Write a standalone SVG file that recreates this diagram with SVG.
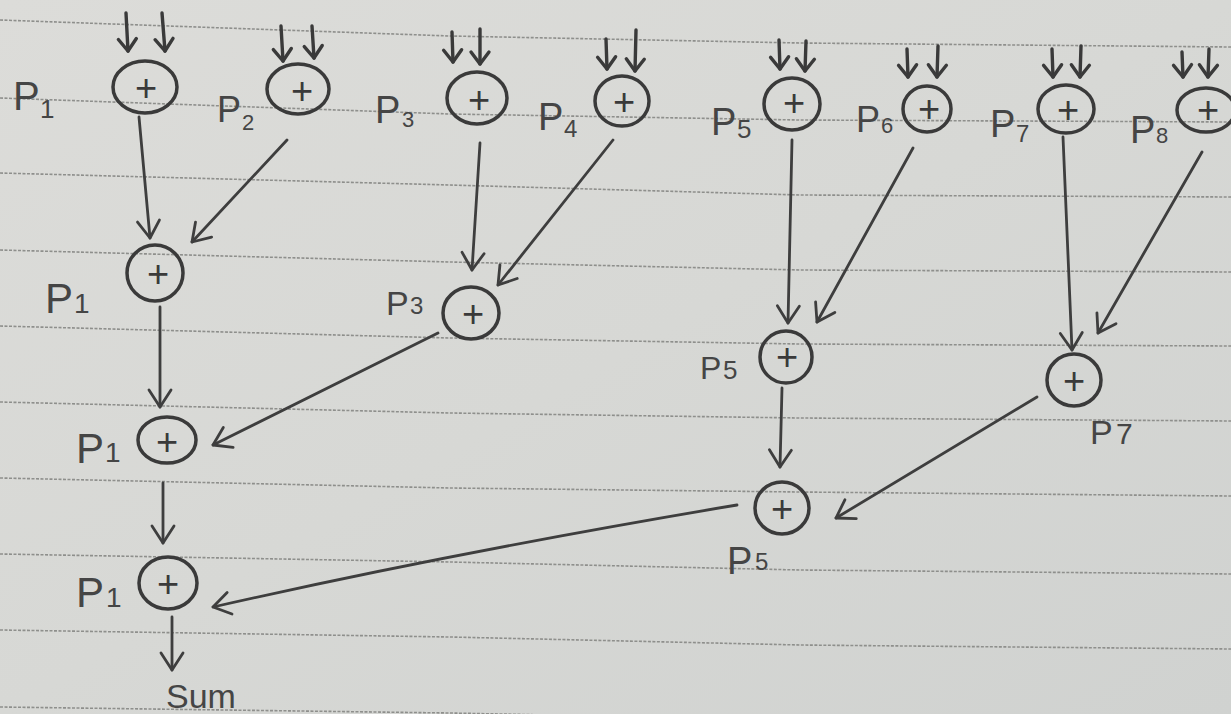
<svg xmlns="http://www.w3.org/2000/svg" width="1231" height="714" viewBox="0 0 1231 714">
<style>
.ring{fill:none;stroke:#3a3a3a;stroke-width:3.5}
.plus{font-family:"Liberation Sans",Arial,sans-serif;font-size:38px;fill:#3a3a3a;text-anchor:middle}
.lbl{font-family:"Liberation Sans",Arial,sans-serif;fill:#454545}
.rule{fill:none;stroke:#8e8f8c;stroke-width:1.6;stroke-dasharray:3 1.5}
.edge{fill:none;stroke:#3e3e3e;stroke-width:2.8;stroke-linecap:round;marker-end:url(#ah)}
.inp{fill:none;stroke:#3a3a3a;stroke-width:3.4;stroke-linecap:round;marker-end:url(#ahs)}
</style>
<defs>
<linearGradient id="paper" x1="0" y1="0" x2="1" y2="1">
<stop offset="0" stop-color="#dcdcd9"/>
<stop offset="0.5" stop-color="#d7d8d5"/>
<stop offset="1" stop-color="#d0d2d0"/>
</linearGradient>
<marker id="ah" viewBox="-20 -14 24 28" refX="0" refY="0" markerWidth="24" markerHeight="28" markerUnits="userSpaceOnUse" orient="auto" overflow="visible">
<path d="M-17,-11 L0,0 L-17,11" fill="none" stroke="#3e3e3e" stroke-width="2.8" stroke-linecap="round" stroke-linejoin="round"/>
</marker>
<marker id="ahs" viewBox="-16 -12 20 24" refX="0" refY="0" markerWidth="20" markerHeight="24" markerUnits="userSpaceOnUse" orient="auto" overflow="visible">
<path d="M-12,-9 L0,0 L-12,9" fill="none" stroke="#3a3a3a" stroke-width="3.4" stroke-linecap="round" stroke-linejoin="round"/>
</marker>
</defs>
<rect width="1231" height="714" fill="url(#paper)"/>
<g id="ruling">
<path class="rule" d="M0,20 L450,36 L800,43 L1231,47"/>
<path class="rule" d="M0,98 L450,114 L800,120 L1231,122"/>
<path class="rule" d="M0,173 L450,185 L800,195 L1231,197"/>
<path class="rule" d="M0,250 L450,262 L800,270 L1231,272"/>
<path class="rule" d="M0,326 L450,338 L800,344 L1231,346"/>
<path class="rule" d="M0,402 L450,413 L800,418 L1231,421"/>
<path class="rule" d="M0,478 L450,488 L800,492 L1231,496"/>
<path class="rule" d="M0,554 L450,562 L800,570 L1231,574"/>
<path class="rule" d="M0,630 L450,637 L800,645 L1231,649"/>
<path class="rule" d="M0,707 L450,713 L800,720 L1231,724"/>
</g>
<g id="connectors">
<path class="inp" d="M126,13 L128,51"/>
<path class="inp" d="M162,13 L165,51"/>
<path class="inp" d="M281,26 L283,61"/>
<path class="inp" d="M312,26 L314,58"/>
<path class="inp" d="M452,32 L453,62"/>
<path class="inp" d="M480,29 L480,64"/>
<path class="inp" d="M606,39 L607,69"/>
<path class="inp" d="M636,30 L635,71"/>
<path class="inp" d="M779,40 L780,69"/>
<path class="inp" d="M806,41 L805,71"/>
<path class="inp" d="M907,49 L908,77"/>
<path class="inp" d="M938,46 L937,77"/>
<path class="inp" d="M1052,49 L1053,77"/>
<path class="inp" d="M1081,46 L1080,77"/>
<path class="inp" d="M1182,52 L1183,77"/>
<path class="inp" d="M1209,49 L1208,77"/>
<path class="edge" d="M139,117 L150,238"/>
<path class="edge" d="M287,140 L192,242"/>
<path class="edge" d="M480,143 L472,270"/>
<path class="edge" d="M613,140 L498,285"/>
<path class="edge" d="M792,140 L788,323"/>
<path class="edge" d="M913,148 L817,322"/>
<path class="edge" d="M1063,137 L1072,350"/>
<path class="edge" d="M1202,152 L1098,333"/>
<path class="edge" d="M160,307 L160,407"/>
<path class="edge" d="M438,333 L213,445"/>
<path class="edge" d="M782,388 L780,467"/>
<path class="edge" d="M1037,397 L836,518"/>
<path class="edge" d="M163,483 L163,543"/>
<path class="edge" d="M737,505 C600,528 420,560 213,607"/>
<path class="edge" d="M172,617 L172,670"/>
</g>
<g id="n1"><ellipse class="ring" cx="145" cy="87" rx="32" ry="26"/><text class="plus" x="146" y="101">+</text>
<text class="lbl" x="13" y="110" font-size="40">P<tspan x="40" y="118" font-size="26">1</tspan></text></g>
<g id="n2"><ellipse class="ring" cx="298" cy="89" rx="31" ry="25"/><text class="plus" x="302" y="104" font-size="32">+</text>
<text class="lbl" x="217" y="122" font-size="36">P<tspan x="242" y="130" font-size="22">2</tspan></text></g>
<g id="n3"><ellipse class="ring" cx="477" cy="98" rx="30" ry="26"/><text class="plus" x="479" y="113">+</text>
<text class="lbl" x="375" y="123" font-size="38">P<tspan x="402" y="127" font-size="22">3</tspan></text></g>
<g id="n4"><ellipse class="ring" cx="622" cy="101" rx="27" ry="25"/><text class="plus" x="624" y="115" font-size="32">+</text>
<text class="lbl" x="538" y="130" font-size="38">P<tspan x="564" y="137" font-size="24">4</tspan></text></g>
<g id="n5"><ellipse class="ring" cx="792" cy="104" rx="28" ry="26"/><text class="plus" x="794" y="116" font-size="32">+</text>
<text class="lbl" x="711" y="135" font-size="38">P<tspan x="737" y="138" font-size="26">5</tspan></text></g>
<g id="n6"><ellipse class="ring" cx="927" cy="109" rx="24" ry="23"/><text class="plus" x="929" y="122" font-size="32">+</text>
<text class="lbl" x="856" y="132" font-size="36">P<tspan x="881" y="133" font-size="22">6</tspan></text></g>
<g id="n7"><ellipse class="ring" cx="1066" cy="109" rx="28" ry="24"/><text class="plus" x="1068" y="123" font-size="34">+</text>
<text class="lbl" x="990" y="137" font-size="38">P<tspan x="1016" y="142" font-size="24">7</tspan></text></g>
<g id="n8"><ellipse class="ring" cx="1206" cy="110" rx="29" ry="22"/><text class="plus" x="1208" y="123" font-size="32">+</text>
<text class="lbl" x="1130" y="143" font-size="38">P<tspan x="1156" y="143" font-size="22">8</tspan></text></g>
<g id="m1"><ellipse class="ring" cx="155" cy="273" rx="28" ry="28"/><text class="plus" x="158" y="287" font-size="32">+</text>
<text class="lbl" x="45" y="313" font-size="42">P<tspan x="74" y="313" font-size="28">1</tspan></text></g>
<g id="m2"><ellipse class="ring" cx="471" cy="313" rx="28" ry="26"/><text class="plus" x="473" y="327" font-size="32">+</text>
<text class="lbl" x="386" y="315" font-size="34">P<tspan x="410" y="314" font-size="24">3</tspan></text></g>
<g id="q1"><ellipse class="ring" cx="167" cy="440" rx="29" ry="23"/><text class="plus" x="167" y="455">+</text>
<text class="lbl" x="76" y="463" font-size="42">P<tspan x="105" y="462" font-size="28">1</tspan></text></g>
<g id="m3"><ellipse class="ring" cx="786" cy="357" rx="26" ry="26"/><text class="plus" x="787" y="370" font-size="32">+</text>
<text class="lbl" x="700" y="379" font-size="32">P<tspan x="723" y="379" font-size="26">5</tspan></text></g>
<g id="m4"><ellipse class="ring" cx="1074" cy="380" rx="27" ry="26"/><text class="plus" x="1074" y="394">+</text>
<text class="lbl" x="1090" y="444" font-size="34">P<tspan x="1116" y="444" font-size="30">7</tspan></text></g>
<g id="q2"><ellipse class="ring" cx="782" cy="508" rx="27" ry="26"/><text class="plus" x="782" y="522" font-size="32">+</text>
<text class="lbl" x="727" y="574" font-size="38">P<tspan x="755" y="570" font-size="24">5</tspan></text></g>
<g id="r1"><ellipse class="ring" cx="168" cy="583" rx="29" ry="26"/><text class="plus" x="168" y="597">+</text>
<text class="lbl" x="76" y="607" font-size="42">P<tspan x="106" y="607" font-size="28">1</tspan></text></g>
<g id="sum"><text class="lbl" x="166" y="708" font-size="34">Sum</text></g>
</svg>
